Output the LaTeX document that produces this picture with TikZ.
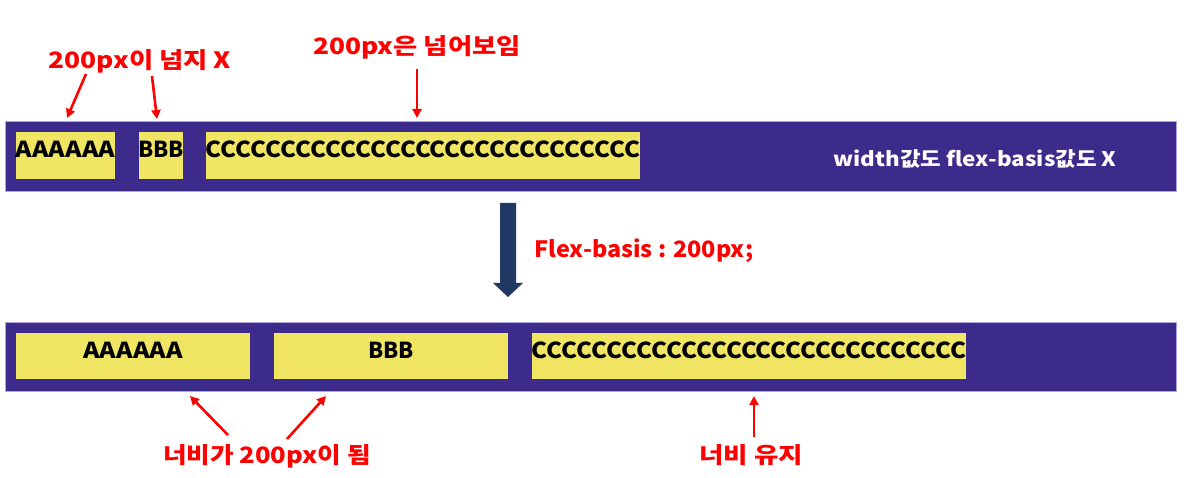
\documentclass[tikz,border=0pt]{standalone}
\usepackage{fontspec}
\usepackage{graphicx}
\setmainfont{Noto Sans CJK KR}
\usetikzlibrary{arrows.meta}
\definecolor{barblue}{RGB}{61,43,140}
\definecolor{baredge}{RGB}{175,165,225}
\definecolor{boxyellow}{RGB}{240,230,100}
\definecolor{navyarrow}{RGB}{31,56,100}
\definecolor{lblred}{RGB}{255,0,0}
\newcommand{\hsc}[2]{\scalebox{#1}[1]{#2}}
\tikzset{
  bar/.style={fill=barblue,draw=baredge,line width=0.8pt},
  ybox/.style={fill=boxyellow,draw=none},
  boxtxt/.style={font=\fontsize{22}{24}\selectfont\bfseries,text=black,inner sep=0pt,anchor=base},
  redlbl/.style={font=\fontsize{22.5}{24}\selectfont\bfseries,text=lblred,inner sep=0pt,anchor=base},
  whitelbl/.style={font=\fontsize{20}{22}\selectfont\bfseries,text=white,inner sep=0pt,anchor=base},
  redarrow/.style={draw=lblred,line width=2.6pt,-{Triangle[length=9pt,width=9pt]}},
}
\begin{document}
\begin{tikzpicture}[x=1pt,y=-1pt]
\useasboundingbox (0,0) rectangle (1191,478);
% top bar
\draw[bar] (5,121) rectangle (1176,191);
\fill[ybox] (16,132) rectangle (115,179);
\fill[ybox] (139,132) rectangle (183,179);
\fill[ybox] (206,132) rectangle (640,179);
\node[boxtxt] (ta) at (65.5,158) {\hsc{1.14}{AAAAAA}};
\node[boxtxt] (tb) at (161,158) {BBB};
\node[boxtxt] (tc) at (423,158) {\hsc{1.09}{CCCCCCCCCCCCCCCCCCCCCCCCCCCCC}};
\node[whitelbl] (tw) at (975,167) {\hsc{1.12}{width값도 flex-basis값도 X}};
% top labels
\node[redlbl] (l1) at (140,69) {\hsc{1.17}{200px이 넘지 X}};
\node[redlbl] (l2) at (417,55) {\hsc{1.17}{200px은 넘어보임}};
\coordinate (l1a) at (86,74);
\coordinate (l1b) at (152,76);
\coordinate (l2a) at (417,69);
\coordinate (ta') at (67,118);
\coordinate (tb') at (157,119);
\coordinate (tc') at (417,118);
\draw[redarrow] (l1a) -- (ta');
\draw[redarrow] (l1b) -- (tb');
\draw[redarrow] (l2a) -- (tc');
% middle arrow
\fill[navyarrow] (500,203) -- (516,203) -- (516,283) -- (523,283) -- (508,297) -- (493,283) -- (500,283) -- cycle;
\node[redlbl,anchor=base west] (fb) at (534,258) {\hsc{1.04}{Flex-basis : 200px;}};
% bottom bar
\draw[bar] (5,322) rectangle (1176,391);
\fill[ybox] (16,333) rectangle (250,379);
\fill[ybox] (274,333) rectangle (508,379);
\fill[ybox] (532,333) rectangle (966,379);
\node[boxtxt] (ba) at (133,358) {\hsc{1.14}{AAAAAA}};
\node[boxtxt] (bb) at (391,358) {BBB};
\node[boxtxt] (bc) at (749,358) {\hsc{1.09}{CCCCCCCCCCCCCCCCCCCCCCCCCCCCC}};
% bottom labels
\node[redlbl] (l3) at (267,463) {\hsc{1.14}{너비가 200px이 됨}};
\node[redlbl] (l4) at (751,463) {\hsc{1.18}{너비 유지}};
\coordinate (l3a) at (228,435);
\coordinate (l3b) at (287,439);
\coordinate (l4a) at (754,437);
\coordinate (ba') at (190,396);
\coordinate (bb') at (326,396);
\coordinate (bc') at (754,396);
\draw[redarrow] (l3a) -- (ba');
\draw[redarrow] (l3b) -- (bb');
\draw[redarrow] (l4a) -- (bc');
\end{tikzpicture}
\end{document}
